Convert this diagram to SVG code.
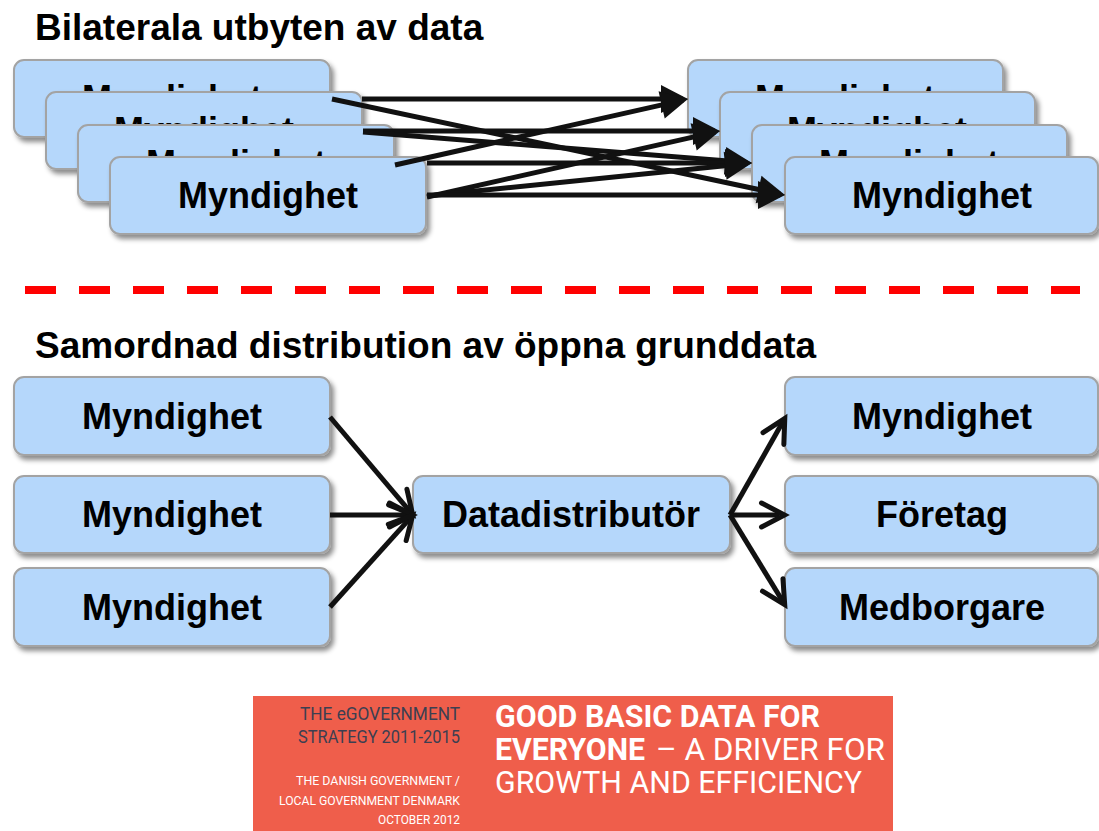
<svg xmlns="http://www.w3.org/2000/svg" width="1099" height="831" viewBox="0 0 1099 831">
<style>
.box{fill:#b5d7fb;stroke:#a3a3a3;stroke-width:2;filter:url(#sh)}
.lbl{font-family:"Liberation Sans",Arial,sans-serif;font-weight:bold;font-size:36px;fill:#000;text-anchor:middle}
.title{font-family:"Liberation Sans",Arial,sans-serif;font-weight:bold;font-size:37px;fill:#000}
.solid{stroke:#111;stroke-width:5;fill:none;marker-end:url(#solid)}
.open{stroke:#111;stroke-width:5;fill:none;marker-end:url(#open)}
.ban{font-family:Roboto,"Liberation Sans",sans-serif}
</style>
<defs>
<filter id="sh" x="-10%" y="-20%" width="125%" height="150%">
<feDropShadow dx="3" dy="4" stdDeviation="2.5" flood-color="#000" flood-opacity="0.45"/>
</filter>
<marker id="solid" markerUnits="userSpaceOnUse" viewBox="-27 -15 28 30" refX="-5" refY="0" markerWidth="28" markerHeight="30" orient="auto" overflow="visible">
<path d="M-27,-14 L0,0 L-27,14 z" fill="#111"/>
</marker>
<marker id="open" markerUnits="userSpaceOnUse" viewBox="-28 -17 36 34" refX="-5" refY="0" markerWidth="36" markerHeight="34" orient="auto" overflow="visible">
<path d="M-23,-12 L0,0 L-23,12" fill="none" stroke="#111" stroke-width="5" stroke-linecap="round" stroke-linejoin="miter"/>
</marker>
</defs>
<rect width="1099" height="831" fill="#fff"/>

<text class="title" x="35" y="40">Bilaterala utbyten av data</text>

<g id="left-stack">
<g id="L1"><rect class="box" x="14" y="60" width="316" height="77" rx="10"/><text class="lbl" x="172" y="111">Myndighet</text></g>
<g id="L2"><rect class="box" x="46" y="92" width="316" height="77" rx="10"/><text class="lbl" x="204" y="143">Myndighet</text></g>
<g id="L3"><rect class="box" x="78" y="125" width="316" height="77" rx="10"/><text class="lbl" x="236" y="176">Myndighet</text></g>
<g id="L4"><rect class="box" x="110" y="157" width="316" height="77" rx="10"/><text class="lbl" x="268" y="208">Myndighet</text></g>
</g>
<g id="right-stack">
<g id="R1"><rect class="box" x="688" y="60" width="315" height="77" rx="10"/><text class="lbl" x="845" y="111">Myndighet</text></g>
<g id="R2"><rect class="box" x="720" y="92" width="315" height="77" rx="10"/><text class="lbl" x="877" y="143">Myndighet</text></g>
<g id="R3"><rect class="box" x="752" y="125" width="315" height="77" rx="10"/><text class="lbl" x="909" y="176">Myndighet</text></g>
<g id="R4"><rect class="box" x="785" y="157" width="313" height="77" rx="10"/><text class="lbl" x="942" y="208">Myndighet</text></g>
</g>

<g id="divider">
<line x1="25" y1="290" x2="1080" y2="290" stroke="#f00" stroke-width="8" stroke-dasharray="31 23"/>
</g>

<text class="title" x="35" y="358">Samordnad distribution av öppna grunddata</text>

<g id="B-L1"><rect class="box" x="14" y="377" width="316" height="78" rx="10"/><text class="lbl" x="172" y="429">Myndighet</text></g>
<g id="B-L2"><rect class="box" x="14" y="476" width="316" height="77" rx="10"/><text class="lbl" x="172" y="527">Myndighet</text></g>
<g id="B-L3"><rect class="box" x="14" y="568" width="316" height="78" rx="10"/><text class="lbl" x="172" y="620">Myndighet</text></g>
<g id="B-D"><rect class="box" x="413" y="476" width="317" height="77" rx="10"/><text class="lbl" x="571" y="527">Datadistributör</text></g>
<g id="B-R1"><rect class="box" x="785" y="377" width="313" height="78" rx="10"/><text class="lbl" x="942" y="429">Myndighet</text></g>
<g id="B-R2"><rect class="box" x="785" y="476" width="313" height="77" rx="10"/><text class="lbl" x="942" y="527">Företag</text></g>
<g id="B-R3"><rect class="box" x="785" y="568" width="313" height="78" rx="10"/><text class="lbl" x="942" y="620">Medborgare</text></g>

<g id="connectors">
<line class="solid" x1="362" y1="99" x2="683" y2="99"/>
<line class="solid" x1="332" y1="99" x2="780.1" y2="194"/>
<line class="solid" x1="363" y1="131" x2="715" y2="131"/>
<line class="solid" x1="363" y1="132" x2="747" y2="162.6"/>
<line class="solid" x1="395" y1="165" x2="683.1" y2="100.1"/>
<line class="solid" x1="427" y1="163" x2="747" y2="163"/>
<line class="solid" x1="427" y1="197" x2="715.1" y2="132.1"/>
<line class="solid" x1="427" y1="196" x2="747" y2="163.5"/>
<line class="solid" x1="427" y1="195" x2="780" y2="195"/>

<line class="open" x1="330" y1="417" x2="409.4" y2="510.8"/>
<line class="open" x1="330" y1="515" x2="407.5" y2="515"/>
<line class="open" x1="330" y1="607" x2="409.3" y2="519.1"/>
<line class="open" x1="730" y1="515" x2="782.3" y2="422.8"/>
<line class="open" x1="730" y1="515" x2="779.5" y2="515"/>
<line class="open" x1="730" y1="515" x2="782.1" y2="600.3"/>
</g>

<g id="banner">
<rect x="253" y="696" width="640" height="135" fill="#ef5e4b"/>
<text class="ban" x="460" y="720" font-size="18" fill="#3c3f51" text-anchor="end" textLength="160" lengthAdjust="spacingAndGlyphs">THE eGOVERNMENT</text>
<text class="ban" x="460" y="743" font-size="18" fill="#3c3f51" text-anchor="end" textLength="162" lengthAdjust="spacingAndGlyphs">STRATEGY 2011-2015</text>
<text class="ban" x="460" y="785" font-size="13" fill="#fff" text-anchor="end" textLength="164" lengthAdjust="spacingAndGlyphs">THE DANISH GOVERNMENT /</text>
<text class="ban" x="460" y="805" font-size="13" fill="#fff" text-anchor="end" textLength="181" lengthAdjust="spacingAndGlyphs">LOCAL GOVERNMENT DENMARK</text>
<text class="ban" x="460" y="824" font-size="13" fill="#fff" text-anchor="end" textLength="82" lengthAdjust="spacingAndGlyphs">OCTOBER 2012</text>
<text class="ban" x="495" y="727" font-size="31" font-weight="bold" fill="#fff" textLength="325" lengthAdjust="spacingAndGlyphs">GOOD BASIC DATA FOR</text>
<text class="ban" x="495" y="760" font-size="31" font-weight="bold" fill="#fff" textLength="150" lengthAdjust="spacingAndGlyphs">EVERYONE</text>
<text class="ban" x="656" y="760" font-size="31" fill="#fff" textLength="229" lengthAdjust="spacingAndGlyphs">– A DRIVER FOR</text>
<text class="ban" x="495" y="793" font-size="31" fill="#fff" textLength="367" lengthAdjust="spacingAndGlyphs">GROWTH AND EFFICIENCY</text>
</g>
</svg>
